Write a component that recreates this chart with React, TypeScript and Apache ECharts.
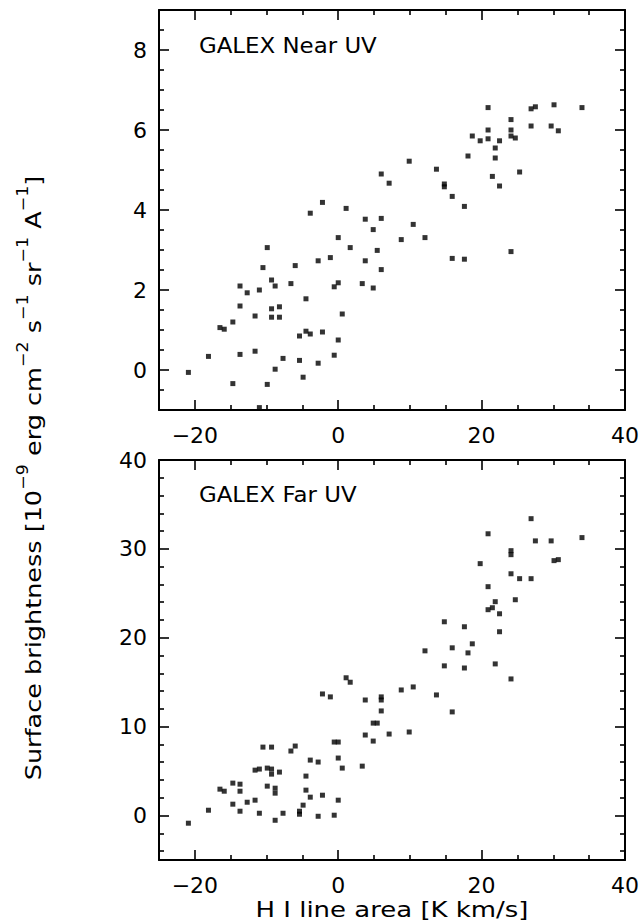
import React, { useEffect, useRef } from 'react';
import * as echarts from 'echarts';

// GALEX Near UV panel (H I line area [K km/s], surface brightness)
const nuvX = [
  -20.9, -18.1, -16.5, -15.9, -14.7, -14.7, -13.7, -13.7, -13.7, -12.7,
  -11.6, -11.6, -11.0, -11.0, -10.5, -9.9, -9.9, -9.3, -9.3, -9.3,
  -8.8, -8.8, -8.2, -8.2, -7.7, -6.6, -6.0, -5.4, -5.4, -4.9,
  -4.5, -4.5, -3.9, -3.9, -2.8, -2.8, -2.2, -2.2, -1.1, -0.56,
  -0.56, 0, 0, 0, 0.56, 1.1, 1.67, 3.35, 3.77, 3.77,
  4.88, 4.88, 5.44, 6.0, 6.0, 8.79, 10.46, 12.1, 15.9, 17.6,
  17.6, 24.1, 20.9, 26.9, 27.5, 30.1, 34.0, 24.1, 20.9, 24.1,
  26.9, 29.7, 30.7, 18.7, 19.8, 20.9, 22.5, 24.1, 24.7, 21.9,
  18.1, 21.9, 9.9, 13.7, 25.3, 21.5, 6.0, 7.1, 14.8, 14.8,
  22.5, 15.9,
];
const nuvY = [
  -0.06, 0.34, 1.06, 1.02, 1.2, -0.34, 2.1, 1.6, 0.39, 1.93,
  1.35, 0.47, 2.0, -0.94, 2.56, 3.06, -0.36, 2.25, 1.53, 1.32,
  2.1, 0.02, 1.58, 1.32, 0.29, 2.16, 2.61, 0.85, 0.24, -0.18,
  1.78, 0.97, 0.9, 3.92, 2.73, 0.17, 4.19, 0.95, 2.81, 2.08,
  0.37, 3.31, 2.18, 0.75, 1.4, 4.04, 3.06, 2.16, 3.77, 2.73,
  3.51, 2.05, 2.99, 3.79, 2.51, 3.26, 3.64, 3.31, 2.79, 2.77,
  4.09, 2.96, 6.56, 6.53, 6.58, 6.63, 6.56, 6.26, 6.0, 6.0,
  6.1, 6.1, 5.98, 5.85, 5.73, 5.78, 5.73, 5.85, 5.8, 5.55,
  5.35, 5.3, 5.22, 5.02, 4.95, 4.84, 4.9, 4.67, 4.65, 4.58,
  4.6, 4.34,
];

// GALEX Far UV panel
const fuvX = [
  -20.9, -18.1, -16.5, -15.9, -14.7, -14.7, -13.7, -13.7, -13.7, -12.7,
  -11.6, -11.0, -11.6, -11.0, -10.5, -9.3, -9.9, -9.3, -9.3, -8.2,
  -9.9, -8.8, -8.8, -8.8, -7.7, -6.6, -6.0, -5.4, -5.4, -4.9,
  -4.5, -4.5, -3.9, -3.9, -2.8, -2.8, -2.2, -2.2, -1.1, -0.56,
  0, -0.56, 0, 0, 0.56, 1.1, 1.67, 3.35, 3.77, 3.77,
  4.88, 5.44, 4.88, 6.0, 6.0, 6.0, 7.1, 8.79, 9.9, 10.46,
  13.7, 14.8, 15.9, 17.6, 21.9, 24.1, 26.9, 20.9, 27.5, 29.7,
  34.0, 24.1, 24.1, 30.1, 30.7, 19.8, 24.1, 25.3, 26.9, 20.9,
  21.9, 24.7, 20.9, 21.5, 22.5, 14.8, 17.6, 22.5, 18.7, 12.1,
  15.9, 18.1,
];
const fuvY = [
  -0.86, 0.6, 2.97, 2.74, 3.65, 1.28, 3.53, 2.74, 0.49, 1.5,
  5.11, 5.23, 1.73, 0.26, 7.7, 7.7, 5.34, 5.23, 4.66, 4.89,
  3.31, 3.08, 2.52, -0.53, 0.26, 7.26, 7.82, 0.49, 0.15, 1.17,
  4.44, 2.86, 6.24, 2.07, 6.02, -0.08, 13.68, 2.29, 13.35, 8.27,
  8.27, 0.04, 6.47, 1.73, 5.34, 15.5, 15.0, 5.56, 13.0, 9.06,
  10.4, 10.4, 8.38, 13.35, 13.0, 11.77, 9.17, 14.13, 9.4, 14.47,
  13.57, 16.84, 11.66, 16.6, 17.06, 15.37, 33.4, 31.7, 30.9, 30.9,
  31.27, 29.8, 29.35, 28.68, 28.79, 28.34, 27.2, 26.65, 26.65, 25.75,
  24.06, 24.28, 23.16, 23.38, 22.7, 21.8, 21.24, 20.68, 19.32, 18.53,
  18.87, 18.3,
];

// Axis ranges and tick values
const xRange = [-25, 40];
const xMajorTicks = [-20, 0, 20, 40];
const xMinorTicks = [-15, -10, -5, 5, 10, 15, 25, 30, 35];
const nuvRange = [-1, 9];
const nuvMajorTicks = [0, 2, 4, 6, 8];
const nuvMinorTicks = [-0.5, 0.5, 1, 1.5, 2.5, 3, 3.5, 4.5, 5, 5.5, 6.5, 7, 7.5, 8.5];
const fuvRange = [-5, 40];
const fuvMajorTicks = [0, 10, 20, 30, 40];
const fuvMinorTicks = [-4, -2, 2, 4, 6, 8, 12, 14, 16, 18, 22, 24, 26, 28, 32, 34, 36, 38];

const panelTitles = ['GALEX Near UV', 'GALEX Far UV'];
const xTitle = 'H I line area [K km/s]';

const FONT = 'DejaVu Sans';
const BLACK = '#000';

const fmt = (v: number) => (v < 0 ? '\u2212' + Math.abs(v) : String(v));

function makeAxes(
  dim: 'x' | 'y',
  gridIndex: number,
  range: number[],
  major: number[],
  minor: number[],
) {
  const pos = dim === 'x' ? ['bottom', 'top'] : ['left', 'right'];
  const line = { color: BLACK, width: 2 };
  const tickLine = { color: BLACK, width: 1.6 };
  const base = {
    type: 'value',
    gridIndex,
    min: range[0],
    max: range[1],
    splitLine: { show: false },
  };
  const label = {
    show: true,
    customValues: major,
    formatter: fmt,
    fontSize: 22,
    fontFamily: FONT,
    color: BLACK,
    margin: dim === 'x' ? 14 : 12,
  };
  return [
    {
      ...base,
      position: pos[0],
      axisLine: { show: true, onZero: false, lineStyle: line },
      axisTick: { show: true, inside: true, length: 10, customValues: major, lineStyle: tickLine },
      axisLabel: label,
    },
    {
      ...base,
      position: pos[0],
      axisLine: { show: false, onZero: false },
      axisTick: { show: true, inside: true, length: 5, customValues: minor, lineStyle: tickLine },
      axisLabel: { show: false },
    },
    {
      ...base,
      position: pos[1],
      axisLine: { show: true, onZero: false, lineStyle: line },
      axisTick: { show: true, inside: true, length: 10, customValues: major, lineStyle: tickLine },
      axisLabel: { show: false },
    },
    {
      ...base,
      position: pos[1],
      axisLine: { show: false, onZero: false },
      axisTick: { show: true, inside: true, length: 5, customValues: minor, lineStyle: tickLine },
      axisLabel: { show: false },
    },
  ];
}

export default function App() {
  const ref = useRef<HTMLDivElement>(null);
  useEffect(() => {
    if (!ref.current) return;
    const chart = echarts.init(ref.current, undefined, { renderer: 'svg' });
    const yLabelText =
      '{m|Surface brightness [10}{s|\u22129}{m| erg cm}{s|\u22122}{m| s}{s|\u22121}{m| sr}{s|\u22121}{m| A}{s|\u22121}{m|]}';
    chart.setOption({
      animation: false,
      backgroundColor: '#fff',
      grid: [
        { left: 159, right: 18, top: 10, height: 400, containLabel: false },
        { left: 159, right: 18, top: 460, height: 400, containLabel: false },
      ],
      xAxis: [
        ...makeAxes('x', 0, xRange, xMajorTicks, xMinorTicks),
        ...makeAxes('x', 1, xRange, xMajorTicks, xMinorTicks),
      ],
      yAxis: [
        ...makeAxes('y', 0, nuvRange, nuvMajorTicks, nuvMinorTicks),
        ...makeAxes('y', 1, fuvRange, fuvMajorTicks, fuvMinorTicks),
      ],
      series: [
        {
          type: 'scatter',
          xAxisIndex: 0,
          yAxisIndex: 0,
          symbol: 'rect',
          symbolSize: 5,
          itemStyle: { color: BLACK },
          data: nuvX.map((x, i) => [x, nuvY[i]]),
        },
        {
          type: 'scatter',
          xAxisIndex: 4,
          yAxisIndex: 4,
          symbol: 'rect',
          symbolSize: 5,
          itemStyle: { color: BLACK },
          data: fuvX.map((x, i) => [x, fuvY[i]]),
        },
      ],
      graphic: [
        {
          type: 'text',
          x: 199,
          y: 45,
          scaleX: 1.04,
          style: {
            text: panelTitles[0],
            fontSize: 22,
            fontFamily: FONT,
            fill: BLACK,
            align: 'left',
            verticalAlign: 'middle',
          },
        },
        {
          type: 'text',
          x: 199,
          y: 494,
          scaleX: 1.04,
          style: {
            text: panelTitles[1],
            fontSize: 22,
            fontFamily: FONT,
            fill: BLACK,
            align: 'left',
            verticalAlign: 'middle',
          },
        },
        {
          type: 'text',
          x: 392,
          y: 910,
          scaleX: 1.18,
          style: {
            text: xTitle,
            fontSize: 22,
            fontFamily: FONT,
            fill: BLACK,
            align: 'center',
            verticalAlign: 'middle',
          },
        },
        {
          type: 'text',
          x: 30,
          y: 478,
          rotation: Math.PI / 2,
          scaleX: 1.16,
          style: {
            text: yLabelText,
            align: 'center',
            verticalAlign: 'middle',
            fill: BLACK,
            rich: {
              m: { fontSize: 22, fontFamily: FONT, fill: BLACK, lineHeight: 30, verticalAlign: 'bottom' },
              s: { fontSize: 15, fontFamily: FONT, fill: BLACK, lineHeight: 15, verticalAlign: 'top' },
            },
          },
        },
      ],
    });
    return () => chart.dispose();
  }, []);
  return (
    <div
      ref={ref}
      style={{ position: 'fixed', left: 0, top: 0, width: 643, height: 924, background: '#fff' }}
    />
  );
}
